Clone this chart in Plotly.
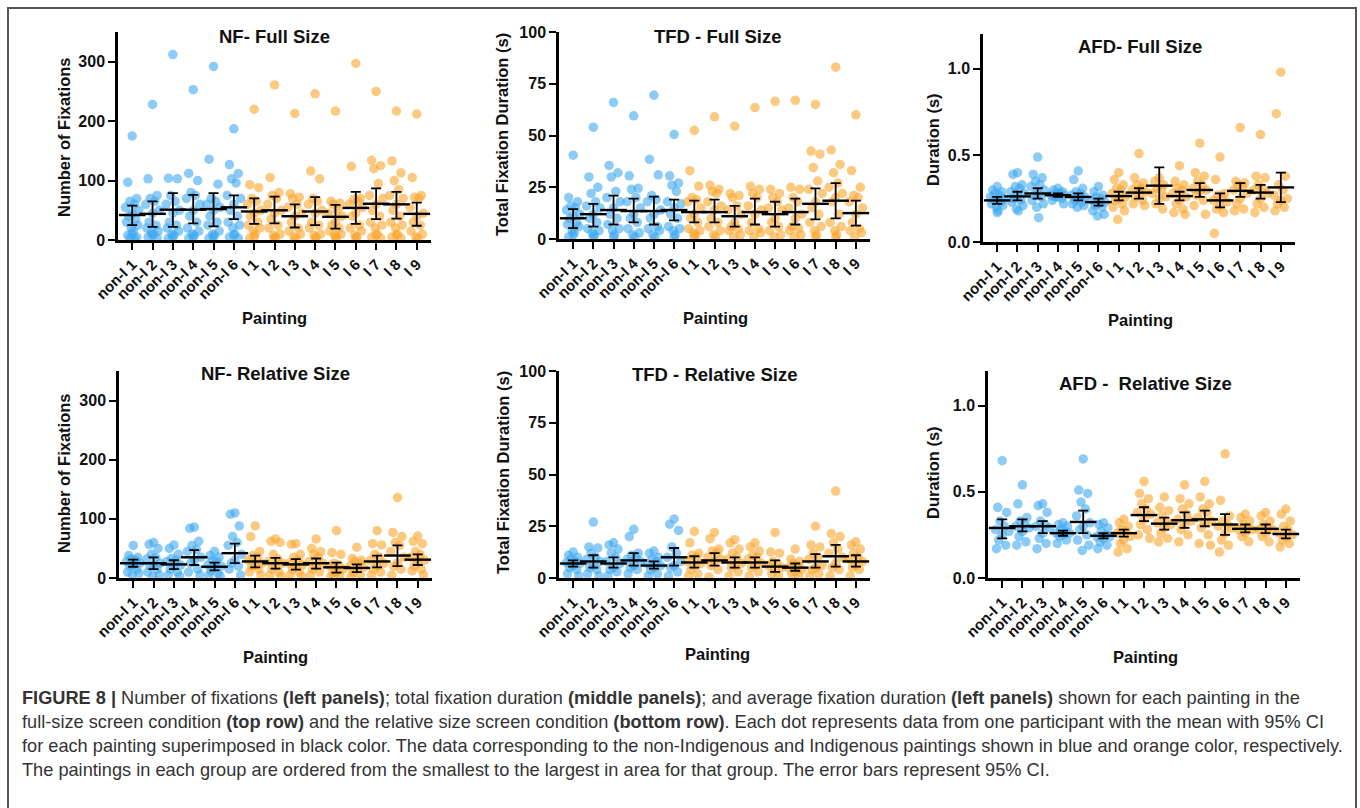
import plotly.graph_objects as go

W, H = 1360, 808

categories = ["non-I 1", "non-I 2", "non-I 3", "non-I 4", "non-I 5", "non-I 6",
              "I 1", "I 2", "I 3", "I 4", "I 5", "I 6", "I 7", "I 8", "I 9"]
n_non_indigenous = 6

# ---------------- NF - Full Size ----------------
nf_full_points = [
    [175, 97, 70, 65, 60, 55, 50, 45, 40, 35, 30, 25, 20, 15, 10, 8, 5, 3, 2],
    [228, 103, 75, 70, 65, 60, 50, 45, 30, 25, 20, 15, 12, 10, 8, 5, 3],
    [312, 104, 103, 75, 65, 60, 50, 45, 30, 25, 20, 15, 10, 8, 5, 3],
    [253, 112, 100, 80, 75, 70, 60, 50, 40, 30, 20, 15, 10, 8, 5, 3],
    [292, 136, 94, 70, 65, 60, 55, 50, 40, 30, 25, 15, 10, 8, 5, 3],
    [187, 127, 112, 103, 96, 75, 70, 60, 50, 40, 30, 25, 20, 10, 8, 5, 3],
    [220, 93, 88, 70, 65, 60, 50, 45, 40, 30, 25, 20, 15, 10, 5, 3],
    [261, 105, 80, 75, 70, 60, 50, 45, 35, 25, 20, 10, 8, 5, 3],
    [213, 78, 72, 70, 60, 55, 45, 40, 30, 20, 15, 10, 5, 3],
    [246, 116, 103, 70, 65, 60, 50, 45, 30, 25, 20, 10, 8, 5, 3],
    [217, 65, 62, 60, 50, 45, 40, 30, 25, 20, 15, 10, 8, 5, 3],
    [297, 124, 70, 68, 65, 60, 55, 45, 40, 25, 20, 15, 8, 5, 3],
    [250, 134, 125, 120, 95, 75, 70, 60, 50, 40, 30, 25, 20, 10, 8, 5, 3],
    [217, 133, 113, 100, 85, 75, 70, 60, 50, 40, 30, 25, 20, 10, 8, 5, 3],
    [212, 105, 75, 72, 70, 55, 45, 40, 30, 25, 15, 10, 5, 3],
]
nf_full_mean = [42, 44, 51, 51, 52, 55, 48, 50, 40, 48, 39, 54, 61, 60, 44]
nf_full_lo = [25, 22, 22, 28, 23, 35, 27, 28, 21, 25, 19, 27, 35, 36, 24]
nf_full_hi = [58, 65, 79, 76, 79, 75, 70, 73, 60, 72, 59, 81, 87, 81, 63]

# ---------------- TFD - Full Size ----------------
tfd_full_points = [
    [40.5, 20, 18, 16, 15, 14, 12, 11, 10, 8, 7, 6, 4, 3, 2, 1],
    [54, 30, 25, 22, 18, 16, 15, 12, 10, 8, 5, 4, 3, 2, 1],
    [66, 35.5, 32, 30, 23, 20, 18, 15, 12, 10, 7, 5, 4, 2, 1],
    [59.5, 30.5, 24.5, 24, 20, 18, 15, 12, 10, 8, 5, 3, 2, 1],
    [69.5, 38.5, 31, 21, 19, 18, 14, 12, 10, 6, 5, 4, 2, 1],
    [50.5, 30.5, 27, 26, 23, 18, 17, 15, 12, 10, 6, 5, 4, 2, 1],
    [52.5, 33, 25.5, 20, 19, 18, 15, 12, 10, 8, 5, 4, 3, 2, 1],
    [59, 26, 24, 23, 22, 18, 16, 14, 10, 8, 6, 4, 2, 1],
    [54.5, 22, 21, 20, 16, 14, 12, 8, 6, 5, 4, 2, 1],
    [63.5, 25.5, 24, 22, 20, 16, 14, 12, 8, 5, 4, 3, 1],
    [66.5, 24, 22, 20, 18, 15, 14, 10, 8, 6, 4, 2, 1],
    [67, 25, 24, 20, 18, 15, 12, 10, 6, 5, 4, 2, 1],
    [65, 42.5, 41, 34.5, 28, 24, 22, 18, 15, 12, 8, 6, 4, 2, 1],
    [83, 43, 36, 32, 27, 25, 22, 20, 18, 12, 8, 6, 4, 2, 1],
    [60, 33, 25, 21, 20, 18, 15, 12, 8, 5, 4, 3, 1],
]
tfd_full_mean = [10, 12, 14, 13.5, 13.5, 14, 13, 13, 11, 13, 12, 13, 17, 18.5, 12.5]
tfd_full_lo = [5.3, 6, 7, 8, 7, 9, 8, 8, 6, 7, 6, 7, 9.5, 10, 6.5]
tfd_full_hi = [14.4, 17, 21, 19.5, 20.5, 19, 18.5, 19, 16, 19.5, 18, 19.5, 24.5, 27, 18.5]

# ---------------- AFD - Full Size ----------------
afd_full_points = [
    [0.32, 0.30, 0.29, 0.28, 0.27, 0.26, 0.25, 0.24, 0.24, 0.23, 0.22, 0.21, 0.20, 0.18, 0.17],
    [0.40, 0.39, 0.33, 0.32, 0.31, 0.29, 0.28, 0.27, 0.25, 0.24, 0.23, 0.21, 0.19, 0.18],
    [0.49, 0.39, 0.37, 0.35, 0.33, 0.32, 0.30, 0.28, 0.27, 0.26, 0.24, 0.22, 0.20, 0.14],
    [0.31, 0.30, 0.29, 0.28, 0.28, 0.27, 0.27, 0.26, 0.26, 0.25, 0.24, 0.22],
    [0.41, 0.36, 0.31, 0.29, 0.28, 0.27, 0.26, 0.25, 0.24, 0.23, 0.22, 0.21, 0.20],
    [0.32, 0.29, 0.27, 0.26, 0.25, 0.24, 0.23, 0.22, 0.21, 0.20, 0.18, 0.16, 0.15],
    [0.40, 0.36, 0.33, 0.31, 0.30, 0.28, 0.26, 0.25, 0.24, 0.22, 0.20, 0.18, 0.13],
    [0.51, 0.37, 0.34, 0.33, 0.31, 0.30, 0.29, 0.28, 0.26, 0.24, 0.22, 0.21],
    [0.37, 0.35, 0.33, 0.31, 0.30, 0.28, 0.26, 0.25, 0.22, 0.19],
    [0.44, 0.35, 0.33, 0.31, 0.30, 0.28, 0.26, 0.24, 0.22, 0.19, 0.17, 0.16],
    [0.57, 0.40, 0.38, 0.35, 0.33, 0.31, 0.30, 0.29, 0.27, 0.24, 0.21, 0.16],
    [0.49, 0.36, 0.28, 0.27, 0.26, 0.24, 0.23, 0.21, 0.19, 0.17, 0.05],
    [0.66, 0.35, 0.34, 0.33, 0.32, 0.30, 0.28, 0.25, 0.22, 0.19, 0.18],
    [0.62, 0.38, 0.37, 0.33, 0.31, 0.30, 0.28, 0.25, 0.22, 0.20, 0.17],
    [0.98, 0.74, 0.38, 0.33, 0.30, 0.27, 0.25, 0.24, 0.22, 0.20, 0.18],
]
afd_full_mean = [0.24, 0.263, 0.28, 0.27, 0.26, 0.23, 0.265, 0.285, 0.325, 0.265, 0.30, 0.24, 0.295, 0.285, 0.315]
afd_full_lo = [0.22, 0.24, 0.25, 0.26, 0.24, 0.21, 0.24, 0.25, 0.22, 0.24, 0.26, 0.20, 0.26, 0.25, 0.23]
afd_full_hi = [0.26, 0.29, 0.31, 0.28, 0.28, 0.25, 0.29, 0.31, 0.43, 0.29, 0.34, 0.28, 0.34, 0.33, 0.40]

# ---------------- NF - Relative Size ----------------
nf_rel_points = [
    [55, 38, 35, 32, 30, 28, 25, 22, 20, 15, 10, 8, 5],
    [60, 57, 50, 40, 35, 32, 25, 22, 20, 15, 10, 5, 3],
    [56, 50, 40, 33, 30, 28, 22, 20, 15, 10, 5, 3],
    [86, 84, 62, 55, 48, 45, 35, 30, 25, 15, 10, 5],
    [45, 38, 35, 30, 28, 22, 20, 18, 12, 8, 5, 3],
    [110, 108, 88, 70, 60, 55, 40, 30, 25, 20, 15, 5],
    [88, 70, 45, 38, 35, 30, 25, 22, 20, 15, 10, 5],
    [66, 62, 60, 40, 32, 28, 25, 20, 15, 10, 5, 3],
    [58, 57, 40, 35, 30, 25, 22, 20, 15, 10, 5, 3],
    [66, 50, 45, 40, 35, 28, 25, 20, 15, 10, 5],
    [80, 43, 40, 25, 22, 20, 15, 10, 8, 5, 3],
    [52, 33, 30, 28, 25, 20, 18, 15, 10, 5, 3],
    [80, 58, 56, 40, 35, 30, 25, 20, 15, 10, 5],
    [136, 77, 70, 60, 55, 45, 35, 25, 20, 15, 5],
    [71, 62, 58, 45, 40, 35, 30, 28, 20, 15, 12, 5],
]
nf_rel_mean = [25, 25, 23, 35, 19, 42, 28, 25, 23, 25, 18, 17, 28, 38, 31]
nf_rel_lo = [19, 15, 15, 22, 13, 25, 18, 16, 14, 16, 9, 10, 18, 20, 22]
nf_rel_hi = [31, 35, 30, 47, 26, 58, 38, 34, 32, 33, 26, 23, 38, 55, 40]

# ---------------- TFD - Relative Size ----------------
tfd_rel_points = [
    [12.5, 11, 10, 9, 8, 7.5, 7, 6, 5, 4, 2, 1],
    [27, 15, 14.5, 12, 10, 9, 8, 6, 5, 4, 2, 1],
    [17, 16, 14, 12, 10, 8, 7, 5, 4, 3, 1],
    [23.5, 20, 12, 11, 10, 9, 8, 6, 5, 4, 2],
    [13, 12, 10, 9, 8, 7, 6, 5, 4, 2, 1],
    [28.5, 26, 23, 15, 12, 10, 8, 6, 5, 3, 1],
    [22.5, 17, 12, 11, 10, 8, 7, 6, 4, 2, 1],
    [22, 19, 14, 13, 12, 10, 9, 8, 6, 4, 0.5],
    [18.5, 17, 14, 12, 10, 9, 7, 6, 5, 3, 1],
    [17, 15, 13, 11, 10, 9, 7, 6, 5, 3, 1],
    [22, 12.5, 12, 8, 7, 6, 5, 4, 2, 1],
    [14, 9, 8, 7, 6, 5, 4, 3, 2, 1],
    [25, 16, 15, 12, 10, 9, 6, 5, 4, 2, 1],
    [42, 21.5, 20, 17, 14, 12, 10, 7, 5, 4, 1],
    [17.5, 16, 14, 12, 10, 9, 8, 6, 5, 4, 1],
]
tfd_rel_mean = [7, 8, 7, 8.5, 6, 10, 7.5, 8.5, 7.5, 7.5, 5.5, 5, 8, 10.5, 8]
tfd_rel_lo = [5.5, 5, 5, 6, 4.5, 6, 5, 6, 5, 5, 3, 3.5, 5, 5.5, 5.5]
tfd_rel_hi = [8.5, 11, 10, 12, 8, 14.5, 10.5, 12, 10, 10, 8.5, 7, 11.5, 16, 11]

# ---------------- AFD - Relative Size ----------------
afd_rel_points = [
    [0.68, 0.41, 0.38, 0.33, 0.30, 0.28, 0.27, 0.25, 0.22, 0.19, 0.17],
    [0.54, 0.43, 0.35, 0.33, 0.31, 0.30, 0.29, 0.27, 0.24, 0.21, 0.19],
    [0.43, 0.42, 0.38, 0.33, 0.31, 0.30, 0.29, 0.26, 0.23, 0.20, 0.17],
    [0.32, 0.31, 0.30, 0.28, 0.27, 0.26, 0.26, 0.25, 0.24, 0.22, 0.20],
    [0.69, 0.51, 0.49, 0.44, 0.40, 0.36, 0.32, 0.30, 0.28, 0.25, 0.22, 0.19, 0.16],
    [0.32, 0.31, 0.29, 0.27, 0.25, 0.24, 0.24, 0.23, 0.21, 0.19, 0.17],
    [0.34, 0.32, 0.30, 0.28, 0.27, 0.26, 0.24, 0.22, 0.20, 0.17, 0.15],
    [0.56, 0.49, 0.46, 0.43, 0.40, 0.38, 0.37, 0.34, 0.31, 0.28, 0.25, 0.23],
    [0.47, 0.41, 0.39, 0.36, 0.33, 0.32, 0.31, 0.29, 0.26, 0.23, 0.21],
    [0.54, 0.46, 0.43, 0.40, 0.37, 0.34, 0.33, 0.31, 0.28, 0.25, 0.21],
    [0.56, 0.47, 0.43, 0.40, 0.38, 0.35, 0.33, 0.32, 0.29, 0.25, 0.20, 0.19],
    [0.72, 0.45, 0.36, 0.33, 0.31, 0.30, 0.29, 0.26, 0.22, 0.19, 0.15],
    [0.37, 0.35, 0.33, 0.31, 0.29, 0.28, 0.28, 0.26, 0.24, 0.21],
    [0.38, 0.36, 0.33, 0.31, 0.29, 0.28, 0.28, 0.26, 0.24, 0.21],
    [0.40, 0.37, 0.33, 0.30, 0.28, 0.26, 0.25, 0.24, 0.22, 0.20, 0.18],
]
afd_rel_mean = [0.29, 0.30, 0.30, 0.26, 0.325, 0.245, 0.26, 0.365, 0.315, 0.335, 0.34, 0.31, 0.285, 0.285, 0.255]
afd_rel_lo = [0.23, 0.27, 0.26, 0.245, 0.26, 0.23, 0.24, 0.33, 0.28, 0.29, 0.30, 0.25, 0.265, 0.26, 0.23]
afd_rel_hi = [0.34, 0.34, 0.33, 0.275, 0.39, 0.26, 0.28, 0.41, 0.35, 0.38, 0.39, 0.37, 0.31, 0.31, 0.28]

panel_titles = ["NF- Full Size", "TFD - Full Size", "AFD- Full Size",
                "NF- Relative Size", "TFD - Relative Size", "AFD -  Relative Size"]
y_titles = ["Number of Fixations", "Total Fixation Duration (s)", "Duration (s)"] * 2
x_title = "Painting"

nf_ticks = [0, 100, 200, 300]
tfd_ticks = [0, 25, 50, 75, 100]
afd_ticks = [0, 0.5, 1.0]
afd_ticktext = ["0.0", "0.5", "1.0"]

caption_lines = [
    "<b>FIGURE 8 |</b> Number of fixations <b>(left panels)</b>; total fixation duration <b>(middle panels)</b>; and average fixation duration <b>(left panels)</b> shown for each painting in the",
    "full-size screen condition <b>(top row)</b> and the relative size screen condition <b>(bottom row)</b>. Each dot represents data from one participant with the mean with 95% CI",
    "for each painting superimposed in black color. The data corresponding to the non-Indigenous and Indigenous paintings shown in blue and orange color, respectively.",
    "The paintings in each group are ordered from the smallest to the largest in area for that group. The error bars represent 95% CI.",
]

# ---------------- styling / layout (pixels) ----------------
BLUE = "rgba(62,168,240,0.6)"
ORANGE = "rgba(250,165,45,0.6)"
FONT = "Arial, Liberation Sans, Helvetica, sans-serif"

panels = [
    dict(points=nf_full_points, mean=nf_full_mean, lo=nf_full_lo, hi=nf_full_hi,
         xpx=(118, 431), ypx=(32, 240), yr=[0, 350], tv=nf_ticks, tt=None,
         title=(274, 36), ytitle=(64, 137), xtitle=(274, 318)),
    dict(points=tfd_full_points, mean=tfd_full_mean, lo=tfd_full_lo, hi=tfd_full_hi,
         xpx=(559, 870), ypx=(32, 239), yr=[0, 100], tv=tfd_ticks, tt=None,
         title=(717, 36), ytitle=(502, 135), xtitle=(715, 318)),
    dict(points=afd_full_points, mean=afd_full_mean, lo=afd_full_lo, hi=afd_full_hi,
         xpx=(983, 1295), ypx=(34, 242), yr=[0, 1.2], tv=afd_ticks, tt=afd_ticktext,
         title=(1140, 46), ytitle=(933, 140), xtitle=(1140, 320)),
    dict(points=nf_rel_points, mean=nf_rel_mean, lo=nf_rel_lo, hi=nf_rel_hi,
         xpx=(119, 432), ypx=(371, 578), yr=[0, 350], tv=nf_ticks, tt=None,
         title=(275, 373), ytitle=(64, 473), xtitle=(275, 657)),
    dict(points=tfd_rel_points, mean=tfd_rel_mean, lo=tfd_rel_lo, hi=tfd_rel_hi,
         xpx=(559, 870), ypx=(371, 578), yr=[0, 100], tv=tfd_ticks, tt=None,
         title=(715, 374), ytitle=(503, 473), xtitle=(717, 654)),
    dict(points=afd_rel_points, mean=afd_rel_mean, lo=afd_rel_lo, hi=afd_rel_hi,
         xpx=(988, 1300), ypx=(371, 578), yr=[0, 1.2], tv=afd_ticks, tt=afd_ticktext,
         title=(1145, 383), ytitle=(933, 473), xtitle=(1145, 657)),
]

jitter_pattern = [0.0, -0.22, 0.22, -0.11, 0.11, -0.33, 0.33, 0.0, -0.17, 0.17, -0.28, 0.28, -0.05, 0.05]

def px2x(px):
    return px / W

def px2y(py):
    return 1 - py / H

fig = go.Figure()
annotations = []
layout_axes = {}

for k, p in enumerate(panels):
    sfx = "" if k == 0 else str(k + 1)
    xref = "x" + sfx
    yref = "y" + sfx
    for i, vals in enumerate(p["points"]):
        color = BLUE if i < n_non_indigenous else ORANGE
        xs = [i + jitter_pattern[j % len(jitter_pattern)] for j in range(len(vals))]
        fig.add_trace(go.Scatter(
            x=xs, y=vals, mode="markers", xaxis=xref, yaxis=yref,
            marker=dict(size=9.5, color=color, line=dict(width=0)),
            cliponaxis=False, showlegend=False, hoverinfo="y"))
    idx = list(range(len(categories)))
    fig.add_trace(go.Scatter(
        x=idx, y=p["mean"], mode="markers", xaxis=xref, yaxis=yref,
        marker=dict(symbol="line-ew", size=19, color="black",
                    line=dict(width=2.4, color="black")),
        error_y=dict(type="data", symmetric=False,
                     array=[h - m for h, m in zip(p["hi"], p["mean"])],
                     arrayminus=[m - l for m, l in zip(p["mean"], p["lo"])],
                     color="black", thickness=1.8, width=5),
        cliponaxis=False, showlegend=False))

    layout_axes["xaxis" + sfx] = dict(
        domain=[px2x(p["xpx"][0]), px2x(p["xpx"][1])], anchor=yref, automargin=False,
        range=[-0.7, 14.7], tickmode="array", tickvals=idx, ticktext=categories,
        tickangle=-45, ticks="outside", ticklen=7, tickwidth=2, tickcolor="black",
        showline=True, linewidth=2.5, linecolor="black", showgrid=False, zeroline=False,
        tickfont=dict(family=FONT, size=15, color="#111", weight="bold"))
    layout_axes["yaxis" + sfx] = dict(
        domain=[px2y(p["ypx"][1]), px2y(p["ypx"][0])], anchor=xref, automargin=False,
        range=p["yr"], tickmode="array", tickvals=p["tv"],
        ticktext=p["tt"] if p["tt"] else [str(v) for v in p["tv"]],
        ticks="outside", ticklen=7, tickwidth=2, tickcolor="black",
        showline=True, linewidth=2.5, linecolor="black", showgrid=False, zeroline=False,
        tickfont=dict(family=FONT, size=16, color="#111", weight="bold"))

    annotations.append(dict(text=panel_titles[k],
                            x=px2x(p["title"][0]), y=px2y(p["title"][1]),
                            xref="paper", yref="paper", showarrow=False,
                            xanchor="center", yanchor="middle",
                            font=dict(family=FONT, size=18.5, color="#111", weight="bold")))
    annotations.append(dict(text=y_titles[k], textangle=-90,
                            x=px2x(p["ytitle"][0]), y=px2y(p["ytitle"][1]),
                            xref="paper", yref="paper", showarrow=False,
                            xanchor="center", yanchor="middle",
                            font=dict(family=FONT, size=16.5, color="#111", weight="bold")))
    annotations.append(dict(text=x_title,
                            x=px2x(p["xtitle"][0]), y=px2y(p["xtitle"][1]),
                            xref="paper", yref="paper", showarrow=False,
                            xanchor="center", yanchor="middle",
                            font=dict(family=FONT, size=16.5, color="#111", weight="bold")))

for li, line in enumerate(caption_lines):
    annotations.append(dict(text=line, x=px2x(20), y=px2y(698 + 24 * li),
                            xref="paper", yref="paper", showarrow=False,
                            xanchor="left", yanchor="middle", align="left",
                            font=dict(family=FONT, size=18.2, color="#333")))

fig.update_layout(
    width=W, height=H, margin=dict(l=0, r=0, t=0, b=0, autoexpand=False),
    paper_bgcolor="white", plot_bgcolor="white",
    annotations=annotations,
    shapes=[dict(type="rect", xref="paper", yref="paper",
                 x0=px2x(8), x1=px2x(1356), y0=px2y(830), y1=px2y(8),
                 line=dict(color="#555", width=2))],
    **layout_axes)

fig.write_html("out.html")
